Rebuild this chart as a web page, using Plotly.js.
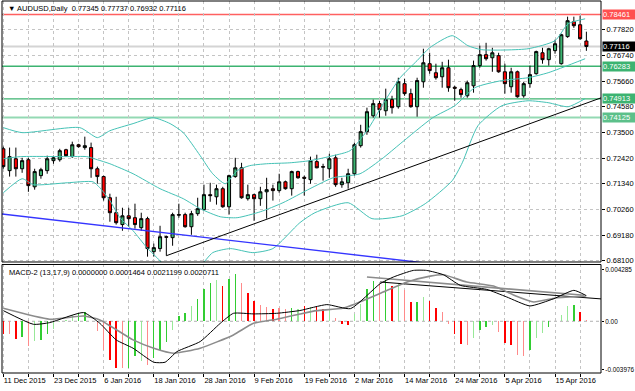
<!DOCTYPE html>
<html><head><meta charset="utf-8">
<script src="https://cdn.plot.ly/plotly-3.0.1.min.js"></script>
<style>html,body{margin:0;padding:0;background:#fff}#chart{width:635px;height:391px}</style>
</head><body><div id="chart"></div>
<script>
// ---- price data (daily bars, 11 Dec 2015 .. 22 Apr 2016) ----
const opens = [0.7281,0.7189,0.7239,0.7197,0.7235,0.7121,0.7168,0.7189,0.7231,0.7235,
0.7277,0.7248,0.7298,0.7286,0.7286,0.7197,0.7164,0.7075,0.7012,0.6962,
0.6999,0.6991,0.6949,0.6987,0.6848,0.6861,0.6911,0.6907,0.7004,0.7004,
0.6953,0.7008,0.7025,0.7088,0.7079,0.7113,0.7037,0.7164,0.7201,0.7071,
0.7088,0.7071,0.7100,0.7113,0.7105,0.7142,0.7113,0.7185,0.7161,0.7151,
0.7227,0.7206,0.7197,0.7243,0.7130,0.7138,0.7176,0.7294,0.7353,0.7420,
0.7471,0.7441,0.7488,0.7458,0.7555,0.7513,0.7458,0.7563,0.7639,0.7601,
0.7584,0.7622,0.7540,0.7530,0.7504,0.7546,0.7631,0.7677,0.7664,0.7673,
0.7605,0.7542,0.7605,0.7504,0.7555,0.7597,0.7685,0.7656,0.7694,0.7639,
0.7753,0.7816,0.7803,0.77345];
const highs = [0.7290,0.7286,0.7286,0.7243,0.7243,0.7197,0.7201,0.7252,0.7252,0.7281,
0.7281,0.7311,0.7302,0.7332,0.7307,0.7206,0.7168,0.7092,0.7079,0.7033,
0.7033,0.7050,0.7012,0.6995,0.6882,0.6957,0.6915,0.7012,0.7050,0.7012,
0.7020,0.7075,0.7130,0.7138,0.7130,0.7121,0.7172,0.7243,0.7222,0.7130,
0.7092,0.7121,0.7159,0.7130,0.7176,0.7147,0.7189,0.7189,0.7168,0.7248,
0.7256,0.7218,0.7260,0.7256,0.7159,0.7197,0.7307,0.7382,0.7454,0.7488,
0.7483,0.7534,0.7504,0.7580,0.7576,0.7534,0.7580,0.7702,0.7685,0.7639,
0.7647,0.7656,0.7546,0.7538,0.7568,0.7652,0.7715,0.7727,0.7706,0.7685,
0.7639,0.7622,0.7610,0.7563,0.7631,0.7694,0.7706,0.7706,0.7740,0.7765,
0.7837,0.7837,0.7841,0.77737];
const lows = [0.7197,0.7164,0.7164,0.7180,0.7100,0.7109,0.7155,0.7176,0.7218,0.7227,
0.7248,0.7243,0.7286,0.7277,0.7159,0.7134,0.7063,0.6974,0.6962,0.6936,
0.6953,0.6945,0.6936,0.6827,0.6827,0.6848,0.6831,0.6873,0.6991,0.6949,
0.6919,0.6999,0.7020,0.7058,0.7046,0.7033,0.7004,0.7159,0.7071,0.7063,
0.6978,0.7041,0.6987,0.7063,0.7096,0.7109,0.7084,0.7155,0.7084,0.7134,
0.7199,0.7147,0.7159,0.7121,0.7117,0.7113,0.7168,0.7286,0.7340,0.7412,
0.7412,0.7420,0.7429,0.7450,0.7504,0.7454,0.7416,0.7538,0.7597,0.7572,
0.7538,0.7521,0.7483,0.7496,0.7496,0.7517,0.7622,0.7652,0.7605,0.7601,
0.7513,0.7517,0.7496,0.7496,0.7538,0.7593,0.7639,0.7631,0.7681,0.7635,
0.7748,0.7790,0.7740,0.76932];
const closes = [0.7206,0.7248,0.7197,0.7231,0.7126,0.7185,0.7193,0.7239,0.7243,0.7273,
0.7252,0.7298,0.7290,0.7294,0.7197,0.7164,0.7075,0.7012,0.6970,0.6999,
0.6987,0.6962,0.6987,0.6861,0.6865,0.6911,0.6909,0.7004,0.7002,0.6953,
0.7008,0.7029,0.7088,0.7084,0.7113,0.7037,0.7168,0.7201,0.7075,0.7088,
0.7071,0.7100,0.7109,0.7105,0.7142,0.7113,0.7185,0.7159,0.7157,0.7231,
0.7201,0.7204,0.7239,0.7130,0.7142,0.7176,0.7298,0.7353,0.7437,0.7471,
0.7445,0.7488,0.7454,0.7563,0.7513,0.7458,0.7568,0.7643,0.7610,0.7580,
0.7622,0.7538,0.7536,0.7509,0.7559,0.7631,0.7677,0.7660,0.7685,0.7605,
0.7555,0.7605,0.7500,0.7555,0.7593,0.7690,0.7656,0.7702,0.7723,0.7761,
0.7820,0.7799,0.7744,0.77116];

// x-axis date labels (every 8th bar)
const dateLabels = ['11 Dec 2015','23 Dec 2015','6 Jan 2016','18 Jan 2016','28 Jan 2016','9 Feb 2016',
  '19 Feb 2016','2 Mar 2016','14 Mar 2016','24 Mar 2016','5 Apr 2016','15 Apr 2016'];
const dateLabelBars = [0,8,16,24,32,40,48,56,64,72,80,88];
const priceTicks = [0.6810,0.6918,0.7026,0.7134,0.7242,0.7350,0.7458,0.7566,0.7674,0.7782];

// Bollinger bands
const bbUpX = [0,3,12.2,15,17,20.7,23.9,26.6,28.7,31.4,33.4,35.4,37.3,39.3,42,45.7,48.9,52.6,55.3,58,60.6,63.3,66,68,71.6,74.1,76.3,83.7,88,90.1,92.8];
const bbUpV = [0.7370,0.7349,0.7370,0.7328,0.7357,0.7387,0.7412,0.7387,0.7349,0.7252,0.7176,0.7134,0.7189,0.7210,0.7218,0.7222,0.7231,0.7252,0.7273,0.7357,0.7471,0.7580,0.7652,0.7706,0.7757,0.7715,0.7698,0.7702,0.7736,0.7807,0.7828];
const bbMidX = [0,2.7,10.2,13.3,15,17,20.7,25,28.7,31.4,34.6,37.3,41,44.6,48.9,52.6,56.9,60.6,63.3,68.5,72,75.2,79.5,83.7,86.9,92.8];
const bbMidV = [0.7239,0.7248,0.7248,0.7248,0.7235,0.7218,0.7176,0.7113,0.7071,0.7029,0.6995,0.6991,0.7016,0.7054,0.7113,0.7159,0.7176,0.7243,0.7302,0.7412,0.7462,0.7538,0.7568,0.7580,0.7601,0.7660];
const bbLowX = [0,3,4.8,10.2,14.3,15.4,17,18.6,20.7,22.9,24.5,26,28.5,31.4,33.4,36.2,39.8,43,47.3,49.7,55,58.8,63.6,67.3,71.6,73.2,75.7,79.5,83.7,86.9,90.1,92.8];
const bbLowV = [0.7096,0.7155,0.7130,0.7138,0.7142,0.7117,0.7063,0.6991,0.6936,0.6865,0.6823,0.6785,0.6770,0.6789,0.6844,0.6861,0.6844,0.6861,0.6970,0.7012,0.7054,0.6987,0.6999,0.7050,0.7147,0.7222,0.7378,0.7462,0.7483,0.7475,0.7458,0.7492];

// horizontal levels and trend lines
const levels = [0.78461,0.77116,0.76283,0.74913,0.74125];
const trendUpX = [26,95.4], trendUpY = [0.6831,0.7496];
const trendDownX = [-0.6,72], trendDownY = [0.7008,0.6786];

// MACD-2 (13,17,9)
const hist = [-0.00105,-0.00105,-0.00146,-0.00132,-0.00204,-0.00162,-0.00154,-0.00105,-0.00066,-0.00005,
0.00008,0.00052,0.00066,0.00080,0.00005,-0.00077,-0.00240,-0.00320,-0.00390,-0.00390,
-0.00390,-0.00290,-0.00330,-0.00360,-0.00300,-0.00240,-0.00170,-0.00070,0.00044,0.00066,
0.00127,0.00182,0.00264,0.00314,0.00341,0.00292,0.00350,0.00391,0.00314,0.00237,
0.00168,0.00135,0.00121,0.00099,0.00113,0.00099,0.00113,0.00099,0.00127,0.00121,
0.00127,0.00105,0.00105,0.00028,-0.00019,-0.00028,0.00063,0.00146,0.00264,0.00330,
0.00311,0.00339,0.00292,0.00319,0.00256,0.00160,0.00160,0.00201,0.00165,0.00110,
0.00077,-0.00019,-0.00102,-0.00184,-0.00198,-0.00138,-0.00074,-0.00047,-0.00033,-0.00088,
-0.00176,-0.00193,-0.00275,-0.00286,-0.00240,-0.00138,-0.00094,-0.00047,0.00002,0.00050,
0.00124,0.00132,0.00077,0.000146];
const histState = ['R','r','R','G','r','g','G','G','g','g','g','g','G','G','r','r','r','R','R','r',
'G','G','g','r','G','G','G','g','G','G','g','G','G','G','g','R','G','G','r','R',
'R','r','r','R','r','r','G','g','R','g','R','R','g','r','R','R','g','g','G','G',
'r','G','R','g','r','R','G','g','R','R','r','r','R','R','r','g','G','G','g','r',
'R','R','r','r','G','g','g','G','g','g','g','G','R','r'];
const macdX = [0,4.8,7.4,12.8,15.4,18,20.7,24,25.8,27.7,31.4,34.6,36.7,39.9,43.6,47.3,51.6,55.4,60.1,62.2,65.4,67.5,70.2,72.9,77.1,80.3,84,87.8,91,93];
const macdV = [0.00088,-0.00025,-0.00011,0.00072,-0.00017,-0.00154,-0.00223,-0.00339,-0.00339,-0.00251,-0.00168,-0.00017,0.00066,0.00061,0.00066,0.00089,0.00138,0.00105,0.00311,0.00366,0.00421,0.00421,0.00385,0.00297,0.00264,0.00201,0.00127,0.00187,0.00256,0.00212];
const sigX = [0,7.4,12.8,15.4,20.7,24,27.1,31.4,36.7,39.9,43.6,47.3,50,54.3,60.6,64.4,68.1,70.2,73.9,78.2,81.5,84.6,88.1,92.9];
const sigV = [0.00107,0.00017,0.00044,0.00011,-0.00154,-0.00223,-0.00264,-0.00223,-0.00113,-0.00017,0.00017,0.00060,0.00088,0.00110,0.00242,0.00325,0.00374,0.00385,0.00325,0.00292,0.00215,0.00160,0.00193,0.00207];
const macdLineAX = [60.1,95.4], macdLineAY = [0.00325,0.00185];
const macdLineBX = [58,92.6], macdLineBY = [0.00366,0.00215];
const macdTicks = [0.004285,0,-0.003976];
const macdTickText = ['0.004285','0.00','-0.003976'];

// ---- build ----
const bars = closes.map((_, i) => i);
const FONT = 'Liberation Sans, Arial, sans-serif';
const histColors = {G:'#32cd32', g:'#98e898', R:'#ff0000', r:'#ff8a8a'};
const gridTicks = [], gridText = [];
for (let b = 0; b <= 92; b += 4) {
  gridTicks.push(b);
  const k = dateLabelBars.indexOf(b);
  gridText.push(k >= 0 ? dateLabels[k] : '');
}
const bbColor = '#45c2b6';
const traces = [
  {type:'scatter', mode:'lines', x:bbUpX, y:bbUpV, line:{color:bbColor, width:1, shape:'spline', smoothing:0.6}, hoverinfo:'skip'},
  {type:'scatter', mode:'lines', x:bbMidX, y:bbMidV, line:{color:bbColor, width:1, shape:'spline', smoothing:0.6}, hoverinfo:'skip'},
  {type:'scatter', mode:'lines', x:bbLowX, y:bbLowV, line:{color:bbColor, width:1, shape:'spline', smoothing:0.6}, hoverinfo:'skip'},
  {type:'scatter', mode:'lines', x:trendDownX, y:trendDownY, line:{color:'#3535ff', width:1.4}, hoverinfo:'skip'},
  {type:'scatter', mode:'lines', x:trendUpX, y:trendUpY, line:{color:'#000', width:1}, hoverinfo:'skip'},
  {type:'candlestick', x:bars, open:opens, high:highs, low:lows, close:closes,
    increasing:{line:{color:'#000', width:1}, fillcolor:'#3cb371'},
    decreasing:{line:{color:'#000', width:1}, fillcolor:'#ff0000'},
    whiskerwidth:0, hoverinfo:'skip'},
  {type:'bar', x:bars, y:hist, xaxis:'x', yaxis:'y2', width:0.22,
    marker:{color:histState.map(s => histColors[s]), line:{width:0}}, hoverinfo:'skip'},
  {type:'scatter', mode:'lines', x:macdLineBX, y:macdLineBY, xaxis:'x', yaxis:'y2', line:{color:'#8c8c8c', width:1.6}, hoverinfo:'skip'},
  {type:'scatter', mode:'lines', x:macdLineAX, y:macdLineAY, xaxis:'x', yaxis:'y2', line:{color:'#000', width:1}, hoverinfo:'skip'},
  {type:'scatter', mode:'lines', x:sigX, y:sigV, xaxis:'x', yaxis:'y2', line:{color:'#8c8c8c', width:1.6, shape:'spline', smoothing:0.5}, hoverinfo:'skip'},
  {type:'scatter', mode:'lines', x:macdX, y:macdV, xaxis:'x', yaxis:'y2', line:{color:'#000', width:1, shape:'spline', smoothing:0.5}, hoverinfo:'skip'}
];

const levelStyles = [
  {color:'#ff6060', width:1.5, box:'#ff5050', txt:'#fff'},
  {color:'#d4d4d4', width:2, box:'#000000', txt:'#fff'},
  {color:'#3cb371', width:1.3, box:'#3cb371', txt:'#fff'},
  {color:'#3cb371', width:1.3, box:'#3cb371', txt:'#fff'},
  {color:'#93d9b3', width:2, box:'#5cc08a', txt:'#fff'}
];
const shapes = [];
const annotations = [];
levels.forEach((v, k) => {
  const s = levelStyles[k];
  shapes.push({type:'line', xref:'x domain', yref:'y', x0:0, x1:1, y0:v, y1:v, line:{color:s.color, width:s.width}, layer:'below'});
  annotations.push({xref:'paper', yref:'y', x:1, y:v, xanchor:'left', yanchor:'middle', xshift:1, showarrow:false,
    text:v.toFixed(5), font:{family:FONT, size:7.5, color:s.txt}, bgcolor:s.box, width:34, height:9, align:'left', borderpad:0});
});
shapes.push({type:'line', xref:'x domain', yref:'y2', x0:0, x1:1, y0:0, y1:0, line:{color:'#b0b0b0', width:1, dash:'3px,3px'}, layer:'below'});
shapes.push({type:'rect', xref:'x domain', yref:'y domain', x0:0, x1:1, y0:0, y1:1, line:{color:'#000', width:1}});
shapes.push({type:'rect', xref:'x domain', yref:'y2 domain', x0:0, x1:1, y0:0, y1:1, line:{color:'#000', width:1}});

annotations.push({xref:'paper', yref:'paper', x:0, y:1, xanchor:'left', yanchor:'top', xshift:4, yshift:-1, showarrow:false,
  text:'▼ AUDUSD,Daily  0.77345 0.77737 0.76932 0.77116', font:{family:FONT, size:7.5, color:'#000'}});
annotations.push({xref:'paper', yref:'y2 domain', x:0, y:1, xanchor:'left', yanchor:'top', xshift:5, yshift:-2, showarrow:false,
  text:'MACD-2 (13,17,9) 0.0000000 0.0001464 0.0021199 0.0020711', font:{family:FONT, size:7.5, color:'#000'}});

const layout = {
  width:635, height:391,
  margin:{l:2, r:34, t:1, b:18},
  paper_bgcolor:'#fff', plot_bgcolor:'#fff',
  showlegend:false,
  font:{family:FONT, size:7.5, color:'#000'},
  bargap:0,
  xaxis:{anchor:'y2', range:[-0.21, 95.33], tickmode:'array', tickvals:gridTicks, ticktext:gridText,
    ticks:'outside', ticklen:3, tickcolor:'#000', ticklabelposition:'outside right', tickangle:0,
    showgrid:true, gridcolor:'#c4c4c4', griddash:'3px,3px', gridwidth:1, zeroline:false,
    showline:false, rangeslider:{visible:false}, tickfont:{family:FONT, size:7.5}},
  yaxis:{domain:[0.2984, 1], anchor:'x', side:'right', range:[0.68046, 0.79029],
    tickmode:'array', tickvals:priceTicks, ticktext:priceTicks.map(v => v.toFixed(5)),
    ticks:'outside', ticklen:3, tickcolor:'#000', showgrid:true, gridcolor:'#c4c4c4', griddash:'3px,3px',
    zeroline:false, showline:false, tickfont:{family:FONT, size:7.5}},
  yaxis2:{domain:[0, 0.2917], anchor:'x', side:'right', range:[-0.00428, 0.00470],
    tickmode:'array', tickvals:macdTicks, ticktext:macdTickText,
    ticks:'outside', ticklen:2, tickcolor:'#000', showgrid:false, zeroline:false, showline:false,
    tickfont:{family:FONT, size:6.4}},
  shapes:shapes, annotations:annotations
};
Plotly.newPlot('chart', traces, layout, {staticPlot:true, displayModeBar:false});
</script></body></html>
